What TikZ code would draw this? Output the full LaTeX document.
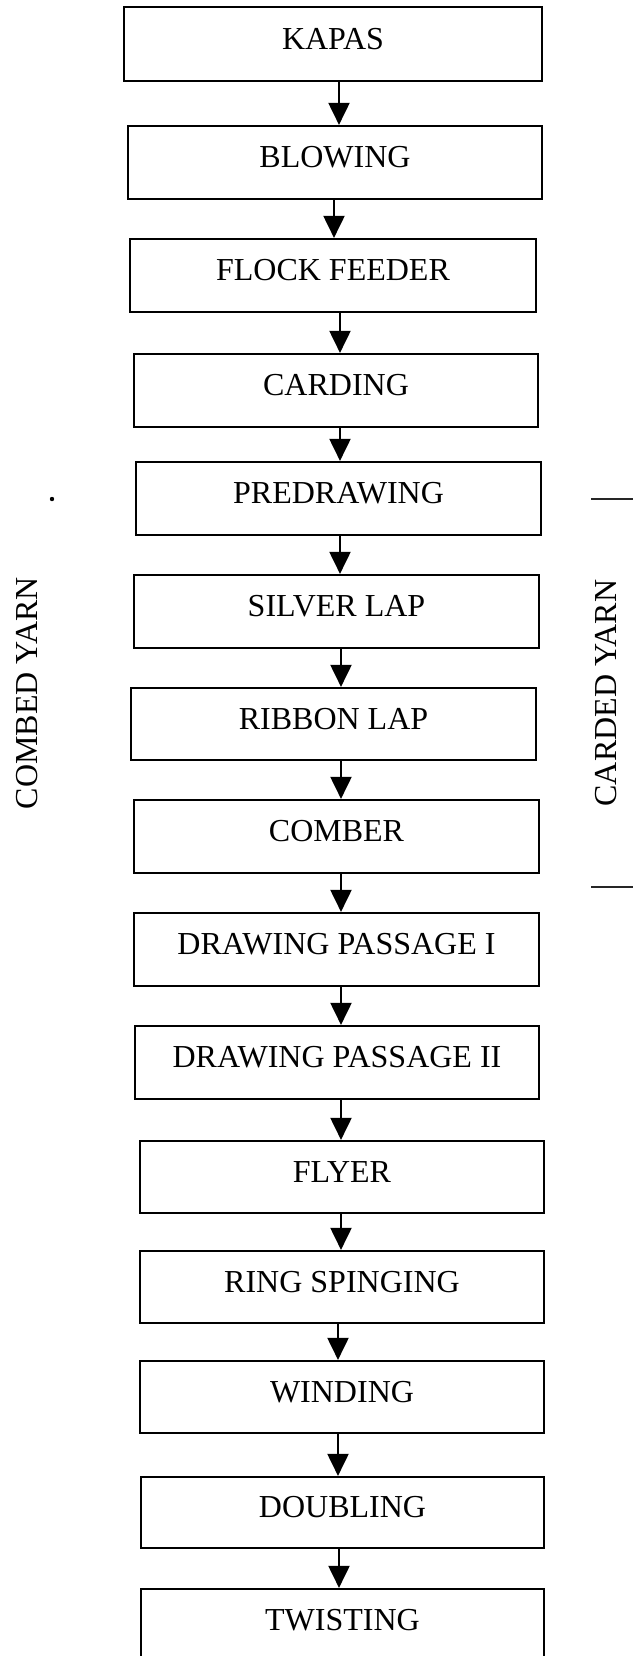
\documentclass[tikz,border=0pt]{standalone}
\usepackage{fontspec}
\setmainfont{Liberation Serif}
\usetikzlibrary{arrows.meta}
\begin{document}
\begin{tikzpicture}[x=0.5pt,y=-0.5pt,
  stage/.style={draw, line width=1.1pt, inner sep=0pt, text height=10.6pt, text depth=5.5pt,
    font=\fontsize{16pt}{19pt}\selectfont},
  flow/.style={line width=1pt, -{Triangle[width=10.5pt,length=11pt]}},
  side/.style={inner sep=0pt, rotate=90, font=\fontsize{16pt}{19pt}\selectfont},
  sideline/.style={line width=0.75pt, black!85}]
\useasboundingbox (0,0) rectangle (633,1656);
\clip (0,0) rectangle (633,1656);
% stages
\node[stage, minimum width=209pt,   minimum height=37pt]   (b1)  at (333,44)      {KAPAS};
\node[stage, minimum width=207pt,   minimum height=36.5pt] (b2)  at (335,162.5)   {BLOWING};
\node[stage, minimum width=203pt,   minimum height=36.5pt] (b3)  at (333,275.5)   {FLOCK FEEDER};
\node[stage, minimum width=202pt,   minimum height=36.5pt] (b4)  at (336,390.5)   {CARDING};
\node[stage, minimum width=202.5pt, minimum height=36.5pt] (b5)  at (338.5,498.5) {PREDRAWING};
\node[stage, minimum width=202.5pt, minimum height=36.5pt] (b6)  at (336.5,611.5) {SILVER LAP};
\node[stage, minimum width=202.5pt, minimum height=36pt]   (b7)  at (333.5,724)   {RIBBON LAP};
\node[stage, minimum width=202.5pt, minimum height=36.5pt] (b8)  at (336.5,836.5) {COMBER};
\node[stage, minimum width=202.5pt, minimum height=36.5pt] (b9)  at (336.5,949.5) {DRAWING PASSAGE I};
\node[stage, minimum width=202pt,   minimum height=36.5pt] (b10) at (337,1062.5)  {DRAWING PASSAGE II};
\node[stage, minimum width=202pt,   minimum height=36pt]   (b11) at (342,1177)    {FLYER};
\node[stage, minimum width=202pt,   minimum height=36pt]   (b12) at (342,1287)    {RING SPINGING};
\node[stage, minimum width=202pt,   minimum height=36pt]   (b13) at (342,1397)    {WINDING};
\node[stage, minimum width=201.5pt, minimum height=35.5pt] (b14) at (342.5,1512.5){DOUBLING};
\node[stage, minimum width=201.5pt, minimum height=36.5pt] (b15) at (342.5,1625.5){TWISTING};
% arrow columns
\coordinate (a1) at (339,0);
\coordinate (a2) at (334,0);
\coordinate (a3) at (340,0);
\coordinate (a4) at (340,0);
\coordinate (a5) at (340,0);
\coordinate (a6) at (341,0);
\coordinate (a7) at (341,0);
\coordinate (a8) at (341,0);
\coordinate (a9) at (341,0);
\coordinate (a10) at (341,0);
\coordinate (a11) at (341,0);
\coordinate (a12) at (338,0);
\coordinate (a13) at (338,0);
\coordinate (a14) at (339,0);
\foreach \i [evaluate=\i as \j using int(\i+1)] in {1,...,14}{
  \draw[flow] (b\i.south -| a\i) -- (b\j.north -| a\i);
}
% side labels
\node[side] (combed) at (27,693) {COMBED YARN};
\node[side] (carded) at (606,693) {CARDED YARN};
\coordinate (r1a) at (591,499);
\coordinate (r1b) at (633,499);
\coordinate (r2a) at (591,887);
\coordinate (r2b) at (633,887);
\draw[sideline] (r1a) -- (r1b);
\draw[sideline] (r2a) -- (r2b);
\fill (52,499) circle (2.2);
\end{tikzpicture}
\end{document}
